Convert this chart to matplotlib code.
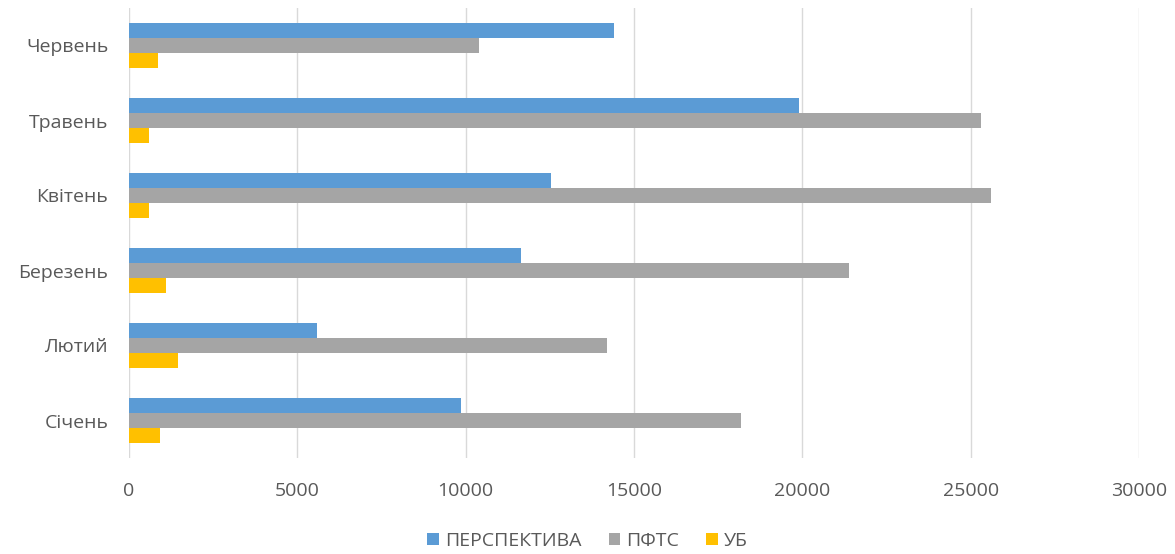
import matplotlib.pyplot as plt
import numpy as np

# Monthly volumes by exchange (bottom to top on the chart)
months = ['Січень', 'Лютий', 'Березень', 'Квітень', 'Травень', 'Червень']
perspektyva = [9860, 5590, 11640, 12530, 19890, 14420]
pfts = [18180, 14200, 21380, 25590, 25320, 10410]
ub = [910, 1450, 1110, 600, 580, 870]

series = [('ПЕРСПЕКТИВА', perspektyva, '#5b9bd5'),
          ('ПФТС', pfts, '#a5a5a5'),
          ('УБ', ub, '#ffc000')]

plt.rcParams['font.family'] = ['Open Sans', 'DejaVu Sans']
text_color = '#595959'

fig = plt.figure(figsize=(11.75, 5.54), dpi=100)
ax = fig.add_axes([129 / 1175, 1 - 458 / 554, 1010 / 1175, 450 / 554])

y = np.arange(len(months))
h = 0.2
offsets = [h, 0, -h]
for (name, vals, color), off in zip(series, offsets):
    ax.barh(y + off, vals, height=h, color=color, label=name, zorder=3)

ax.set_xlim(0, 30000)
ax.set_ylim(-0.5, len(months) - 0.5)
ax.set_xticks(np.arange(0, 30001, 5000))
ax.set_yticks(y)
ax.set_yticklabels(months)
ax.tick_params(length=0, labelsize=14, labelcolor=text_color)
ax.tick_params(axis='x', pad=17)
ax.tick_params(axis='y', pad=15)
ax.grid(axis='x', color='#d9d9d9', linewidth=1, zorder=0)
for s in ax.spines.values():
    s.set_visible(False)

handles, labels = ax.get_legend_handles_labels()
fig.legend(handles, labels, loc='center', bbox_to_anchor=(0.5, 1 - 541 / 554),
           ncol=3, frameon=False, fontsize=14, labelcolor=text_color,
           handlelength=0.6, handleheight=0.6, handletextpad=0.3, columnspacing=1.4)

fig.savefig('out.png', dpi=100, facecolor='white')
